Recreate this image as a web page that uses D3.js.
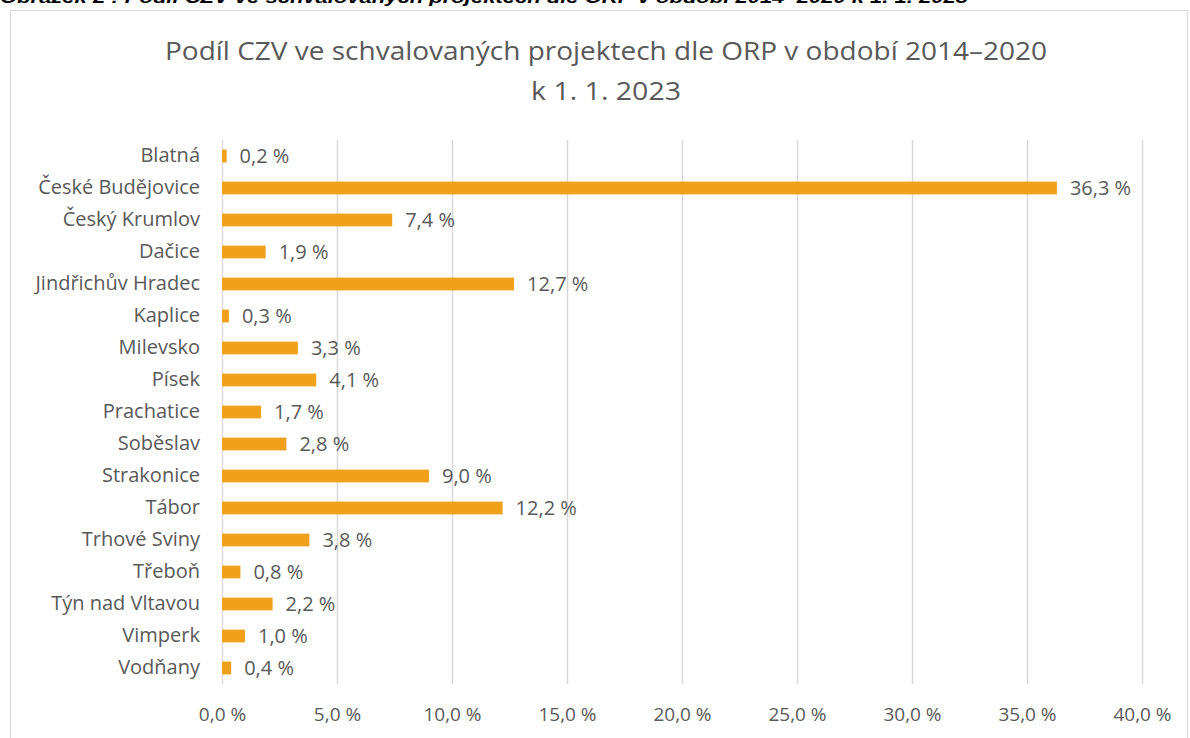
<!DOCTYPE html>
<html><head><meta charset="utf-8">
<script src="https://cdn.jsdelivr.net/npm/d3@7"></script>
<style>body{margin:0;background:#fff}svg{display:block}</style>
</head><body>
<svg id="c" width="1190" height="738"></svg>
<script>
const categories = ["Blatná","České Budějovice","Český Krumlov","Dačice","Jindřichův Hradec","Kaplice","Milevsko","Písek","Prachatice","Soběslav","Strakonice","Tábor","Trhové Sviny","Třeboň","Týn nad Vltavou","Vimperk","Vodňany"];
const values = [0.2,36.3,7.4,1.9,12.7,0.3,3.3,4.1,1.7,2.8,9.0,12.2,3.8,0.8,2.2,1.0,0.4];
const tickValues = [0,5,10,15,20,25,30,35,40];
const titleLines = ["Podíl CZV ve schvalovaných projektech dle ORP v období 2014–2020","k 1. 1. 2023"];
const caption = "Obrázek 2 : Podíl CZV ve schvalovaných projektech dle ORP v období 2014–2020 k 1. 1. 2023";

const fmt = v => v.toFixed(1).replace(".", ",") + " %";
const svg = d3.select("#c");
const font = "'Open Sans', 'Liberation Sans', sans-serif";
const grey = "#595959";

svg.append("text").attr("x",0).attr("y",3).attr("font-family","'Liberation Sans', sans-serif")
  .attr("font-weight","bold").attr("font-style","italic").attr("font-size",17)
  .attr("textLength",968).attr("lengthAdjust","spacingAndGlyphs").attr("fill","#000").text(caption);

svg.append("rect").attr("x",10.5).attr("y",10.5).attr("width",1177).attr("height",740)
  .attr("fill","#fff").attr("stroke","#d9d9d9").attr("stroke-width",1);

svg.selectAll("text.title").data(titleLines).join("text").attr("class","title")
  .attr("x",606).attr("y",(d,i)=>60+i*40).attr("text-anchor","middle")
  .attr("font-family",font).attr("font-size",25).attr("fill",grey)
  .attr("textLength",(d,i)=> i===0 ? 882 : 150).attr("lengthAdjust","spacingAndGlyphs")
  .text(d=>d);

const x = d3.scaleLinear().domain([0,40]).range([222,1142]);
const y = d3.scaleBand().domain(categories).range([140,684]).paddingInner(0.6).paddingOuter(0.3);

svg.append("g").selectAll("line").data(tickValues).join("line")
  .attr("x1",d=>x(d)+0.5).attr("x2",d=>x(d)+0.5).attr("y1",140).attr("y2",684)
  .attr("stroke","#d9d9d9").attr("stroke-width",1.5);

const xAxis = svg.append("g").attr("transform","translate(0,684)")
  .call(d3.axisBottom(x).tickValues(tickValues).tickFormat(fmt).tickSize(0).tickPadding(24));
xAxis.select(".domain").remove();
xAxis.selectAll("text").attr("font-family",font).attr("font-size",19).attr("fill",grey);

svg.append("g").selectAll("rect").data(values).join("rect")
  .attr("x",x(0)).attr("y",(d,i)=>y(categories[i]))
  .attr("width",d=>x(d)-x(0)).attr("height",y.bandwidth()).attr("fill","#F0A11C");

const yAxis = svg.append("g").attr("transform","translate(222,0)")
  .call(d3.axisLeft(y).tickSize(0).tickPadding(22));
yAxis.select(".domain").remove();
yAxis.selectAll("text").attr("font-family",font).attr("font-size",20).attr("fill",grey);

svg.append("g").selectAll("text").data(values).join("text")
  .attr("x",d=>x(d)+13).attr("y",(d,i)=>y(categories[i])+y.bandwidth()/2).attr("dy","0.35em")
  .attr("font-family",font).attr("font-size",20).attr("fill",grey).text(fmt);
</script>
</body></html>
